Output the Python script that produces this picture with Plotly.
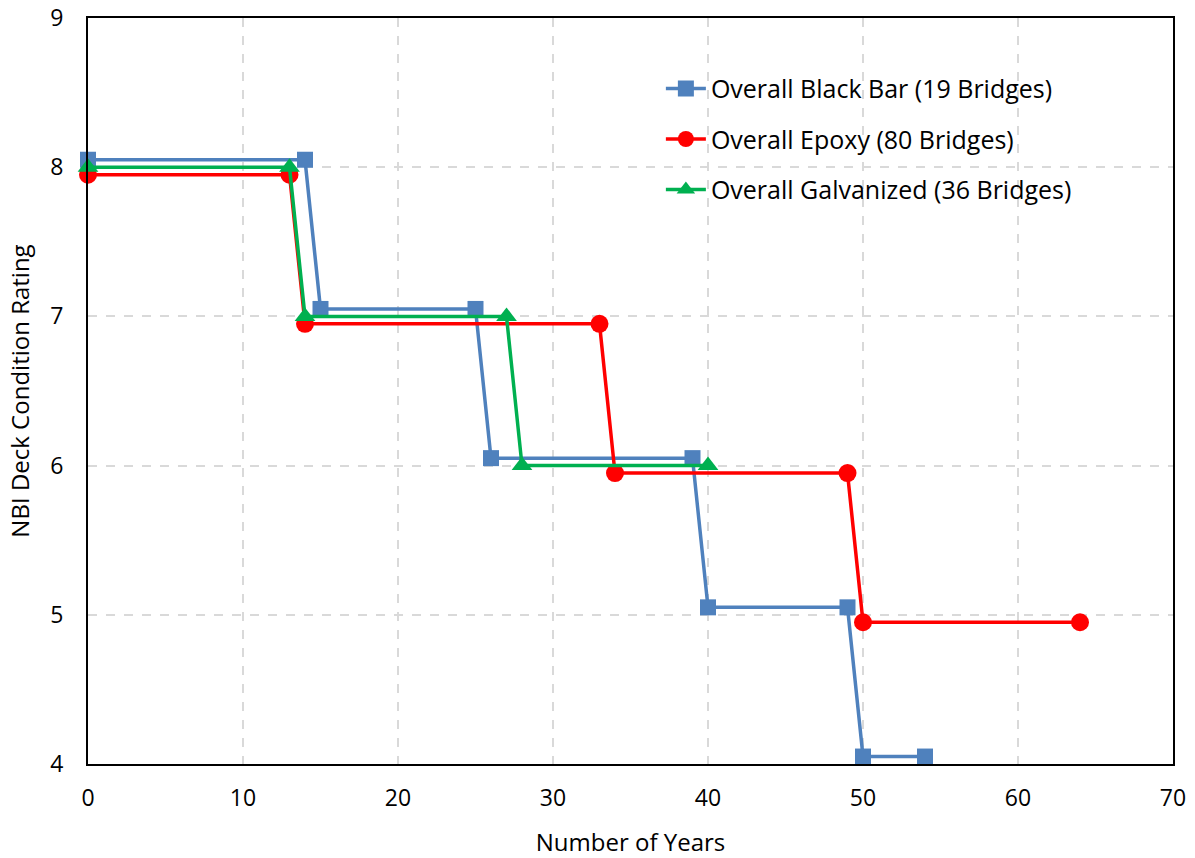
import plotly.graph_objects as go

black_x = [0, 14, 15, 25, 26, 39, 40, 49, 50, 54]
black_y = [8.05, 8.05, 7.05, 7.05, 6.05, 6.05, 5.05, 5.05, 4.05, 4.05]
epoxy_x = [0, 13, 14, 33, 34, 49, 50, 64]
epoxy_y = [7.95, 7.95, 6.95, 6.95, 5.95, 5.95, 4.95, 4.95]
galv_x = [0, 13, 14, 27, 28, 40]
galv_y = [8.0, 8.0, 7.0, 7.0, 6.0, 6.0]

names = ["Overall Black Bar (19 Bridges)", "Overall Epoxy (80 Bridges)", "Overall Galvanized (36 Bridges)"]

font = "Open Sans"
fig = go.Figure()
fig.add_trace(go.Scatter(x=black_x, y=black_y, name=names[0], mode="lines+markers", legendgroup="a",
                         cliponaxis=False,
                         line=dict(color="#4F81BD", width=3.5),
                         marker=dict(symbol="square", size=16, color="#4F81BD")))
fig.add_trace(go.Scatter(x=epoxy_x, y=epoxy_y, name=names[1], mode="lines+markers", legendgroup="b",
                         cliponaxis=False,
                         line=dict(color="#FF0000", width=3.5),
                         marker=dict(symbol="circle", size=18, color="#FF0000")))
fig.add_trace(go.Scatter(x=galv_x, y=galv_y, name=names[2], mode="lines+markers", legendgroup="c",
                         cliponaxis=False,
                         line=dict(color="#00B050", width=3.5),
                         marker=dict(symbol="triangle-up", size=18, color="#00B050")))

axis_common = dict(showline=True, linecolor="black", linewidth=2, mirror=True,
                   showgrid=True, gridcolor="#D9D9D9", griddash="dash", gridwidth=1.5,
                   zeroline=False, ticks="outside", tickcolor="rgba(0,0,0,0)", automargin=False,
                   tickfont=dict(family=font, size=23, color="black"))
fig.update_xaxes(range=[0, 70], dtick=10, ticklen=12,
                 title=dict(text="Number of Years", font=dict(family=font, size=24, color="black"), standoff=30),
                 **axis_common)
fig.update_yaxes(range=[4, 9], dtick=1, ticklen=18,
                 title=dict(text="NBI Deck Condition Rating", font=dict(family=font, size=24, color="black"), standoff=14),
                 **axis_common)

fig.update_layout(
    width=1195, height=858,
    margin=dict(l=88, r=22, t=18, b=94),
    plot_bgcolor="white", paper_bgcolor="white",
    font=dict(family=font, color="black"),
    legend=dict(x=0.528, y=0.936, xanchor="left", yanchor="top",
                font=dict(family=font, size=25, color="black"),
                bgcolor="rgba(255,255,255,0)", tracegroupgap=15, itemwidth=40),
    showlegend=True,
)
fig.write_html("out.html")
